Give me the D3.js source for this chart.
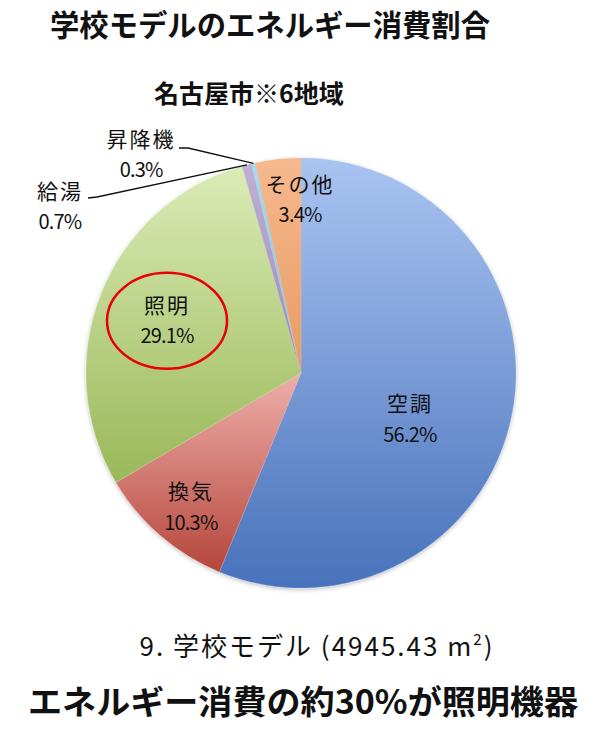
<!DOCTYPE html>
<html>
<head>
<meta charset="utf-8">
<script src="https://cdn.jsdelivr.net/npm/d3@7"></script>
<style>
  body { margin: 0; background: #fff; }
  text { font-family: "Noto Sans CJK JP", "Noto Sans", sans-serif; fill: #111; }
</style>
</head>
<body>
<div id="chart"></div>
<script>
// energy share of the school model (Nagoya, region 6)
const categories = ["空調", "換気", "照明", "給湯", "昇降機", "その他"];
const values = [56.2, 10.3, 29.1, 0.7, 0.3, 3.4];
const valueLabels = ["56.2%", "10.3%", "29.1%", "0.7%", "0.3%", "3.4%"];

const titleText = "学校モデルのエネルギー消費割合";
const subtitleText = "名古屋市※6地域";
const captionText = "9. 学校モデル (4945.43 m";
const footerText = "エネルギー消費の約30%が照明機器";

const width = 607, height = 735;
const cx = 301, cy = 373, radius = 215;

// colours: [top, bottom] of the vertical gradient
const colors = {
	"空調": ["#aac4f1", "#4872bb"],
	"換気": ["#eeb0ab", "#b5463c"],
	"照明": ["#dbebb6", "#9ab859"],
	"給湯": ["#bfb0d4", "#9d89b8"],
	"昇降機": ["#a8dcef", "#7fc1db"],
	"その他": ["#f6b98f", "#e99a62"]
};

// label anchor (angle in degrees clockwise from top, distance from centre)
const labelPos = {
	"空調": [112.0, 117.5],
	"換気": [219.8, 172],
	"照明": [292.0, 144.5],
	"給湯": [304.9, 294],
	"昇降機": [324.0, 272],
	"その他": [359.7, 175.5]
};

const svg = d3.select("#chart").append("svg")
	.attr("width", width)
	.attr("height", height);

const defs = svg.append("defs");

categories.forEach((c, i) => {
	let g = defs.append("linearGradient")
		.attr("id", "grad" + i)
		.attr("x1", 0).attr("y1", 0).attr("x2", 0).attr("y2", 1);
	g.append("stop").attr("offset", "0%").attr("stop-color", colors[c][0]);
	g.append("stop").attr("offset", "100%").attr("stop-color", colors[c][1]);
});

let shadow = defs.append("filter").attr("id", "shadow")
	.attr("x", "-10%").attr("y", "-10%").attr("width", "120%").attr("height", "120%");
shadow.append("feDropShadow")
	.attr("dx", 0).attr("dy", 1.5).attr("stdDeviation", 2)
	.attr("flood-color", "#000").attr("flood-opacity", 0.25);

// titles
svg.append("text")
	.attr("x", 50).attr("y", 36)
	.attr("textLength", 440).attr("lengthAdjust", "spacingAndGlyphs")
	.style("font-size", "30px").style("font-weight", "bold")
	.text(titleText);

svg.append("text")
	.attr("x", 249).attr("y", 103)
	.attr("text-anchor", "middle")
	.style("font-size", "25px").style("font-weight", "bold")
	.text(subtitleText);

// pie
const pie = d3.pie().sort(null).value(d => d.value);
const arc = d3.arc().innerRadius(0).outerRadius(radius);
const data = categories.map((c, i) => ({ name: c, value: values[i], label: valueLabels[i], idx: i }));
const arcs = pie(data);

const g = svg.append("g").attr("transform", `translate(${cx},${cy})`);

g.append("g").attr("filter", "url(#shadow)")
	.selectAll("path")
	.data(arcs)
	.enter().append("path")
	.attr("d", arc)
	.attr("fill", d => `url(#grad${d.data.idx})`)
	.attr("stroke", d => colors[d.data.name][0])
	.attr("stroke-width", 0.3);

// leader lines for the tiny slices
const edge = d => {
	let a = (d.startAngle + d.endAngle) / 2;
	return d3.pointRadial(a, radius);
};
const byName = n => arcs.find(d => d.data.name === n);

let p1 = edge(byName("昇降機"));
g.append("path")
	.attr("d", d3.line()([[179 - cx, 148 - cy], [188 - cx, 148 - cy], p1]))
	.attr("fill", "none").attr("stroke", "#111").attr("stroke-width", 1.3);

let p2 = edge(byName("給湯"));
g.append("path")
	.attr("d", d3.line()([[88 - cx, 198 - cy], [97 - cx, 197 - cy], p2]))
	.attr("fill", "none").attr("stroke", "#111").attr("stroke-width", 1.3);

// labels
const labels = g.selectAll(".lbl")
	.data(arcs)
	.enter().append("g")
	.attr("class", "lbl")
	.attr("transform", d => {
		let p = labelPos[d.data.name];
		let pt = d3.pointRadial(p[0] * Math.PI / 180, p[1]);
		return `translate(${pt[0]},${pt[1]})`;
	});

labels.append("text")
	.attr("y", -15)
	.attr("text-anchor", "middle")
	.attr("dominant-baseline", "central")
	.style("font-size", "21px")
	.style("letter-spacing", "2px")
	.text(d => d.data.name);

labels.append("text")
	.attr("y", 16)
	.attr("text-anchor", "middle")
	.attr("dominant-baseline", "central")
	.style("font-size", "20px")
	.style("letter-spacing", "-0.8px")
	.text(d => d.data.label);

// red circle around lighting label
let lp = labelPos["照明"];
let lpt = d3.pointRadial(lp[0] * Math.PI / 180, lp[1]);
g.append("ellipse")
	.attr("cx", lpt[0]).attr("cy", lpt[1] + 2)
	.attr("rx", 60).attr("ry", 48)
	.attr("fill", "none")
	.attr("stroke", "#e8000b")
	.attr("stroke-width", 2.5);

// caption
let cap = svg.append("text")
	.attr("x", 317).attr("y", 656)
	.attr("text-anchor", "middle")
	.style("font-size", "26px")
	.style("letter-spacing", "2px");
cap.append("tspan").text(captionText);
cap.append("tspan").attr("dy", -11).style("font-size", "15px").text("2");
cap.append("tspan").attr("dy", 11).text(")");

svg.append("text")
	.attr("x", 28).attr("y", 714)
	.attr("textLength", 550).attr("lengthAdjust", "spacingAndGlyphs")
	.style("font-size", "33px").style("font-weight", "bold")
	.text(footerText);
</script>
</body>
</html>
